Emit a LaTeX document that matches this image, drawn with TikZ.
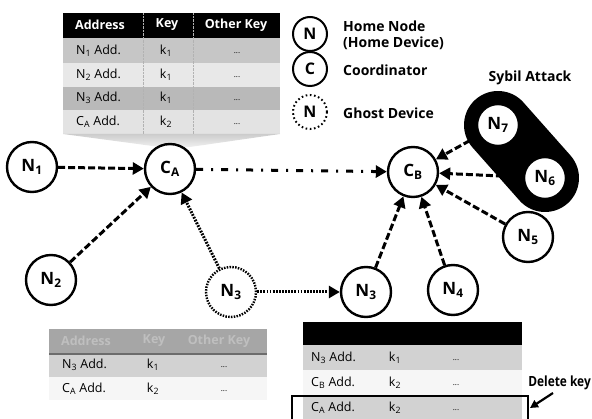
\documentclass[tikz,border=0pt]{standalone}
\usepackage{fontspec}
\usepackage{graphicx}
\setmainfont{Open Sans}
\usetikzlibrary{arrows.meta}
\newcommand\nlab[2]{#1\textsubscript{#2}}
\begin{document}
\begin{tikzpicture}[x=1pt,y=-1pt,
  hn/.style={circle,draw,line width=2.4pt,fill=white,minimum size=50pt,inner sep=0pt,font=\fontsize{17}{17}\selectfont\bfseries},
  gn/.style={hn,dash pattern=on 1.5pt off 1.3pt},
  lg/.style={circle,draw,line width=2pt,fill=white,minimum size=34pt,inner sep=0pt,font=\fontsize{16}{16}\selectfont\bfseries},
  lgg/.style={lg,dash pattern=on 1.6pt off 2.6pt},
  lgtxt/.style={anchor=west,font=\fontsize{14}{16}\selectfont\bfseries,align=left,inner sep=0pt},
  link/.style={line width=3pt,-{Triangle[length=11pt,width=12pt]}},
  dashlink/.style={link,dash pattern=on 7pt off 3pt},
  dotlink/.style={link,dash pattern=on 1.8pt off 1.3pt},
  dashdotlink/.style={link,dash pattern=on 7pt off 8pt on 2pt off 8pt},
  cell/.style={font=\fontsize{12.5}{14}\selectfont,inner sep=0pt},
  dots/.style={font=\fontsize{8}{9}\selectfont,inner sep=0pt},
  hcell/.style={font=\fontsize{12.5}{14}\selectfont\bfseries,text=white,inner sep=0pt},
  fcell/.style={font=\fontsize{12.5}{14}\selectfont\bfseries,text=gray!50,inner sep=0pt},
]
\useasboundingbox (0,0) rectangle (592,419);

% ---- key table of coordinator A ----
\fill[black] (63,13) rectangle (280,38);
\fill[gray!45] (63,38) rectangle (280,63);
\fill[gray!18] (63,63) rectangle (280,87);
\fill[gray!55] (63,87) rectangle (280,110);
\fill[gray!22] (63,110) rectangle (280,134);
\draw[gray!60,densely dotted] (143,13)--(143,134) (193,13)--(193,134);
% pointer from the table down to C_A
\shade[top color=gray!40,bottom color=gray!12] (63,134) -- (280,134) -- (190,147) -- (160,147) -- cycle;
\node[hcell,anchor=west] (ah1) at (75,25) {Address};
\node[hcell] (ah2) at (167,25) {Key};
\node[hcell] (ah3) at (236,25) {Other Key};
\node[cell,anchor=west] (ar1) at (76,51) {\nlab{N}{1} Add.};
\node[cell] (ak1) at (166,51) {k\textsubscript{1}};
\node[dots] (ao1) at (237,53) {...};
\node[cell,anchor=west] (ar2) at (76,75) {\nlab{N}{2} Add.};
\node[cell] (ak2) at (166,75) {k\textsubscript{1}};
\node[dots] (ao2) at (237,77) {...};
\node[cell,anchor=west] (ar3) at (76,98) {\nlab{N}{3} Add.};
\node[cell] (ak3) at (166,98) {k\textsubscript{1}};
\node[dots] (ao3) at (237,100) {...};
\node[cell,anchor=west] (ar4) at (76,122) {\nlab{C}{A} Add.};
\node[cell] (ak4) at (166,122) {k\textsubscript{2}};
\node[dots] (ao4) at (237,124) {...};

% ---- legend ----
\node[lg] (lgN) at (310,34) {N};
\node[lgtxt] (lgNt) at (343,35) {Home Node\\(Home Device)};
\node[lg] (lgC) at (310,69) {C};
\node[lgtxt] (lgCt) at (343,70) {Coordinator};
\node[lgg] (lgG) at (310,112) {N};
\node[lgtxt] (lgGt) at (343,113) {Ghost Device};
\node[font=\fontsize{14}{16}\selectfont\bfseries,inner sep=0pt] (syb) at (530,78) {Sybil Attack};

% ---- Sybil group ----
\draw[line width=68pt,line cap=round] (498,125) -- (545,178);

% ---- nodes ----
\node[hn] (N1) at (32,167) {\nlab{N}{1}};
\node[hn] (CA) at (170,169) {\nlab{C}{A}};
\node[hn] (CB) at (413,172) {\nlab{C}{B}};
\node[hn] (N2) at (51,280) {\nlab{N}{2}};
\node[gn] (N3g) at (231,292) {\nlab{N}{3}};
\node[hn] (N3) at (366,292) {\nlab{N}{3}};
\node[hn] (N4) at (453,290) {\nlab{N}{4}};
\node[hn] (N5) at (528,237) {\nlab{N}{5}};
\node[hn,minimum size=42pt] (N7) at (498,125) {\nlab{N}{7}};
\node[hn,minimum size=42pt] (N6) at (545,178) {\nlab{N}{6}};

% ---- connections ----
\draw[dashlink] (N1) -- (CA);
\draw[dashlink] (N2) -- (CA);
\draw[dotlink] (N3g) -- (CA);
\draw[dashdotlink] (CA) -- (CB);
\draw[dotlink] (N3g) -- (N3);
\draw[dashlink] (N3) -- (CB);
\draw[dashlink] (N4) -- (CB);
\draw[dashlink] (N5) -- (CB);
\draw[dashlink] (N6) -- (CB);
\draw[dashlink] (N7) -- (CB);

% ---- key table of the ghost device ----
\fill[gray!70] (49,329) rectangle (267,354);
\fill[gray!35] (49,354) rectangle (267,377);
\fill[gray!7] (49,377) rectangle (267,400);
\draw[line width=1.5pt,gray!85!black] (49,354) -- (267,354);
\node[fcell,anchor=west] (gh1) at (61,341) {Address};
\node[fcell] (gh2) at (154,341) {Key};
\node[fcell] (gh3) at (219,341) {Other Key};
\node[cell,anchor=west] (gr1) at (62,365) {\nlab{N}{3} Add.};
\node[cell] (gk1) at (153,365) {k\textsubscript{1}};
\node[dots] (go1) at (224,367) {...};
\node[cell,anchor=west] (gr2) at (62,389) {\nlab{C}{A} Add.};
\node[cell] (gk2) at (153,389) {k\textsubscript{2}};
\node[dots] (go2) at (224,391) {...};

% ---- key table of node N3 ----
\fill[black] (303,322) rectangle (522,345);
\fill[gray!35] (303,345) rectangle (522,370);
\fill[gray!7] (303,370) rectangle (522,396);
\fill[gray!35] (303,396) rectangle (522,419);
\node[cell,anchor=west] (nr1) at (311,358) {\nlab{N}{3} Add.};
\node[cell] (nk1) at (395,358) {k\textsubscript{1}};
\node[dots] (no1) at (456,360) {...};
\node[cell,anchor=west] (nr2) at (311,383) {\nlab{C}{B} Add.};
\node[cell] (nk2) at (395,383) {k\textsubscript{2}};
\node[dots] (no2) at (456,385) {...};
\node[cell,anchor=west] (nr3) at (311,408) {\nlab{C}{A} Add.};
\node[cell] (nk3) at (395,408) {k\textsubscript{2}};
\node[dots] (no3) at (456,410) {...};
\draw[line width=2pt] (292,421) |- (528,396) -- (528,421);
\coordinate (boxarr) at (530,408);
\coordinate (delfoot) at (553,393);
\node[font=\fontsize{14}{16}\selectfont\bfseries,inner sep=0pt,anchor=east] (del) at (591,383) {\scalebox{0.85}[1]{Delete key}};
\draw[line width=2.2pt,-{Triangle[length=8pt,width=8pt]}] (delfoot) -- (boxarr);
\end{tikzpicture}
\end{document}
